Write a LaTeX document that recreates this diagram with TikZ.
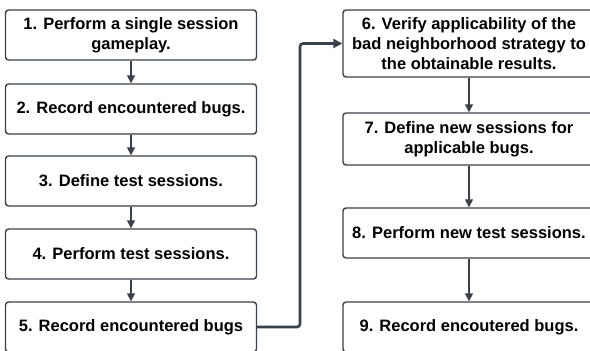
\documentclass[tikz,border=0pt]{standalone}
\usepackage{fontspec}
\setmainfont{Liberation Sans}
\usetikzlibrary{arrows.meta}
\definecolor{lc}{RGB}{58,65,74}
\begin{document}
\begin{tikzpicture}[x=1pt,y=-1pt,
  box/.style={draw=lc,line width=1.4pt,rounded corners=3pt,fill=white,inner sep=0pt,
    align=center,font=\fontsize{16.5}{20}\selectfont\bfseries,text=black},
  lbox/.style={box,minimum width=251pt},
  rbox/.style={box,minimum width=252pt},
  conn/.style={draw=lc,line width=1.4pt,-{Triangle[length=8pt,width=8pt]}},
  thickconn/.style={draw=lc,line width=2.6pt,rounded corners=3pt,-{Triangle[length=9pt,width=9pt]}}]
\useasboundingbox (0,0) rectangle (590,351);
\node[lbox,minimum height=50pt] (b1) at (131,35) {1. Perform a single session\\gameplay.};
\node[lbox,minimum height=50pt] (b2) at (131,109) {2. Record encountered bugs.};
\node[lbox,minimum height=50pt] (b3) at (131,181) {3. Define test sessions.};
\node[lbox,minimum height=50pt] (b4) at (131,254) {4. Perform test sessions.};
\node[lbox,minimum height=50pt] (b5) at (131,327) {5. Record encountered bugs};
\node[rbox,minimum height=67pt] (b6) at (469,43.5) {6. Verify applicability of the\\bad neighborhood strategy to\\the obtainable results.};
\node[rbox,minimum height=52pt] (b7) at (469,139) {7. Define new sessions for\\applicable bugs.};
\node[rbox,minimum height=50pt] (b8) at (469,233) {8. Perform new test sessions.};
\node[rbox,minimum height=50pt] (b9) at (469,327) {9. Record encoutered bugs.};
\draw[conn] (b1) -- (b2);
\draw[conn] (b2) -- (b3);
\draw[conn] (b3) -- (b4);
\draw[conn] (b4) -- (b5);
\draw[conn] (b6) -- (b7);
\draw[conn] (b7) -- (b8);
\draw[conn] (b8) -- (b9);
\draw[thickconn] (b5.east) -- (300,327) -- (300,43.5) -- (b6.west);
\end{tikzpicture}
\end{document}
